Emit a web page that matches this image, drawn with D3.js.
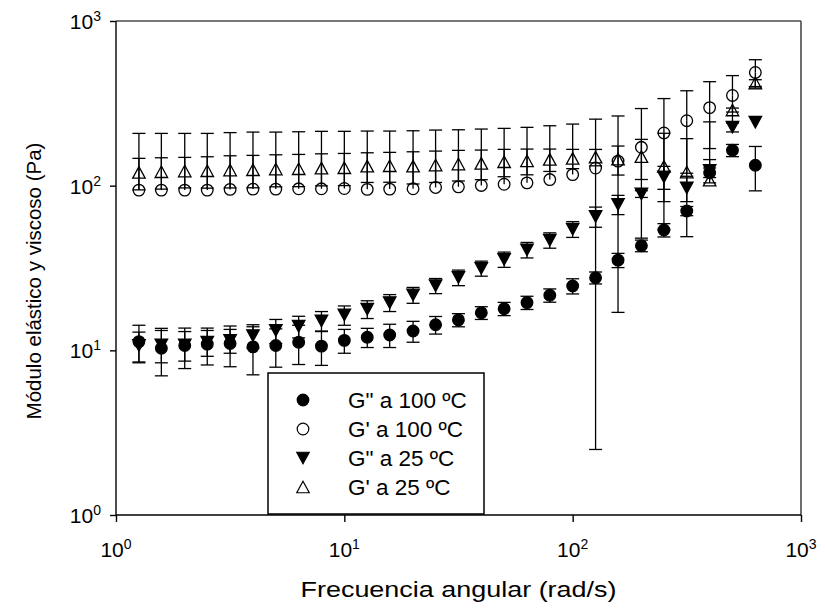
<!DOCTYPE html>
<html><head><meta charset="utf-8">
<script src="https://cdn.jsdelivr.net/npm/d3@7"></script>
<style>
body{margin:0;background:#fff}
text{font-family:"Liberation Sans",Arial,sans-serif;fill:#000}
</style></head>
<body><svg id="c" width="825" height="616"></svg>
<script>
// ---- data ----
const freq = [1.26,1.58,2.00,2.51,3.16,3.98,5.01,6.31,7.94,10.0,12.6,15.8,20.0,25.1,31.6,39.8,50.1,63.1,79.4,100,126,158,200,251,316,398,501,631];

const gpp100   = [11.3,10.3,10.7,10.9,11.0,10.5,10.7,11.2,10.6,11.5,12.0,12.4,13.1,14.3,15.3,16.9,17.9,19.5,21.6,24.6,27.6,35.3,43.2,53.8,70.2,120,164,133];
const gpp100Sd = [2.9,3.3,2.95,2.75,3.05,3.4,2.8,3.0,2.5,1.9,1.6,2.0,1.9,1.75,1.4,1.5,1.65,1.8,2.0,2.6,2.3,3.5,3.5,5,4.5,8,14,40];

const gp100    = [94.0,94.0,94.0,94.0,94.9,95.3,95.3,95.7,95.7,96.1,95.0,95.3,95.7,97.5,98.4,100.3,102,104,108.9,116.7,128,141,171,209,248,298,353,487];
const gp100Sd  = [113.7,113.7,113.7,113.7,115.1,116.2,116.2,116.8,118.1,117.7,119.6,119.3,119.8,120.1,120.1,120.4,120.8,122,122.2,119.9,125.5,124,123,129,129,130,113,95];

const gpp25    = [10.7,10.8,10.8,11.2,11.5,12.3,13.2,14.0,15.1,16.4,17.8,19.5,21.7,24.7,27.7,31.5,35.7,40.8,46.7,54.5,65,77,89,113,97,124,227,243];
const gpp25Sd  = [2.2,2.4,2.2,2.0,1.9,2.0,2.2,2.1,2.1,2.2,2.2,2.3,2.4,2.6,3.0,3.3,3.8,4.4,5,6,9.1,10.3,4.2,18,17,20,15,0];

const gp25     = [120.4,121.5,122.7,123.2,124.4,124.9,126.2,126.7,127.9,128.5,131.5,132.1,131.5,133.4,135.3,136.6,139.7,141.6,144.4,146.5,149,145,150,131,121,108,288,420];
const gp25Sd   = [26.1,26.2,25.8,26.6,27.5,27.8,27.8,28.1,28.2,28.4,26.9,27.2,29.1,28.8,28.5,27.9,26.4,25.2,22.4,19.6,17,29,41,77,72,136,8,20];

const legendLabels = ['G" a 100 ºC', "G' a 100 ºC", 'G" a 25 ºC', "G' a 25 ºC"];
const tickExps = [0,1,2,3];
const xTitle = "Frecuencia angular (rad/s)";
const yTitle = "Módulo elástico y viscoso (Pa)";

// ---- chart ----
const svg = d3.select('#c');
const L=116, R=801, T=21, B=515;
const x = d3.scaleLog().domain([1,1000]).range([L,R]);
const y = d3.scaleLog().domain([1,1000]).range([B,T]);

const series = [
  {vals:gpp100, sd:gpp100Sd, shape:'circle', filled:true},
  {vals:gp100,  sd:gp100Sd,  shape:'circle', filled:false},
  {vals:gpp25,  sd:gpp25Sd,  shape:'down',   filled:true},
  {vals:gp25,   sd:gp25Sd,   shape:'up',     filled:false}
];

function shapePath(shape){
  if(shape==='circle') return d3.symbol().type(d3.symbolCircle).size(Math.PI*5.8*5.8)();
  const w=12.5, h=11.5;
  if(shape==='up') return `M0,${-h/2}L${w/2},${h/2}L${-w/2},${h/2}Z`;
  return `M0,${h/2}L${w/2},${-h/2}L${-w/2},${-h/2}Z`;
}

// frame: top and right
svg.append('line').attr('x1',L).attr('x2',R).attr('y1',T).attr('y2',T).attr('stroke','#4a4a4a').attr('stroke-width',1.6);
svg.append('line').attr('x1',R).attr('x2',R).attr('y1',T).attr('y2',B).attr('stroke','#4a4a4a').attr('stroke-width',1.6);

// axes
const fmtNone = () => '';
const gx = svg.append('g').attr('transform',`translate(0,${B})`)
  .call(d3.axisBottom(x).tickValues(tickExps.map(e=>Math.pow(10,e))).tickSize(7).tickFormat(fmtNone));
const gy = svg.append('g').attr('transform',`translate(${L},0)`)
  .call(d3.axisLeft(y).tickValues(tickExps.map(e=>Math.pow(10,e))).tickSize(6).tickFormat(fmtNone));
[gx,gy].forEach(g=>{
  g.select('.domain').attr('stroke','#000').attr('stroke-width',1.4);
  g.selectAll('.tick line').attr('stroke','#000').attr('stroke-width',1.4);
  g.selectAll('.tick text').remove();
});
gx.select('.domain').attr('d',`M${L},0H${R}`);
gy.select('.domain').attr('d',`M0,${B}V${T}`);

// tick labels with superscripts
tickExps.forEach(e=>{
  const tx = svg.append('text').attr('x',x(Math.pow(10,e))).attr('y',B+42)
    .attr('text-anchor','middle').style('font-size','21px');
  tx.append('tspan').text('10');
  tx.append('tspan').attr('dy',-8).style('font-size','14px').text(e);
  const ty = svg.append('text').attr('x',101).attr('y',y(Math.pow(10,e))+8)
    .attr('text-anchor','end').style('font-size','21px');
  ty.append('tspan').text('10');
  ty.append('tspan').attr('dy',-8).style('font-size','14px').text(e);
});

// titles
svg.append('text').attr('x',(L+R)/2).attr('y',597).attr('text-anchor','middle')
  .style('font-size','22.5px').attr('textLength',316).attr('lengthAdjust','spacingAndGlyphs').text(xTitle);
svg.append('text').attr('transform',`translate(41,281) rotate(-90)`).attr('text-anchor','middle')
  .style('font-size','20.5px').text(yTitle);

// error bars
const cap = 6.5;
const eb = svg.append('g').attr('stroke','#000').attr('stroke-width',1.3).attr('fill','none');
series.forEach(s=>{
  s.vals.forEach((v,i)=>{
    const sd = s.sd[i];
    if(!sd) return;
    const cx = x(freq[i]);
    const hi = v+sd, lo = v-sd;
    eb.append('line').attr('x1',cx).attr('x2',cx).attr('y1',y(v)).attr('y2',y(hi));
    eb.append('line').attr('x1',cx-cap).attr('x2',cx+cap).attr('y1',y(hi)).attr('y2',y(hi));
    if(lo>0){
      eb.append('line').attr('x1',cx).attr('x2',cx).attr('y1',y(v)).attr('y2',y(lo));
      eb.append('line').attr('x1',cx-cap).attr('x2',cx+cap).attr('y1',y(lo)).attr('y2',y(lo));
    }
  });
});

// markers
[3,1,2,0].forEach(k=>{
  const s = series[k];
  svg.append('g').selectAll('path').data(s.vals).join('path')
    .attr('d',shapePath(s.shape))
    .attr('transform',(v,i)=>`translate(${x(freq[i])},${y(v)})`)
    .attr('fill', s.filled ? '#000' : 'none')
    .attr('stroke','#000').attr('stroke-width',1.3);
});

// legend
const lg = svg.append('g');
lg.append('rect').attr('x',268).attr('y',373).attr('width',216).attr('height',141)
  .attr('fill','#fff').attr('stroke','#000').attr('stroke-width',1.5);
const rowY = [400,429,458,487];
series.forEach((s,k)=>{
  lg.append('path').attr('d',shapePath(s.shape)).attr('transform',`translate(303,${rowY[k]})`)
    .attr('fill', s.filled ? '#000' : 'none').attr('stroke','#000').attr('stroke-width',1.2);
  lg.append('text').attr('x',348).attr('y',rowY[k]+7.5).style('font-size','22.5px').text(legendLabels[k]);
});
</script></body></html>
